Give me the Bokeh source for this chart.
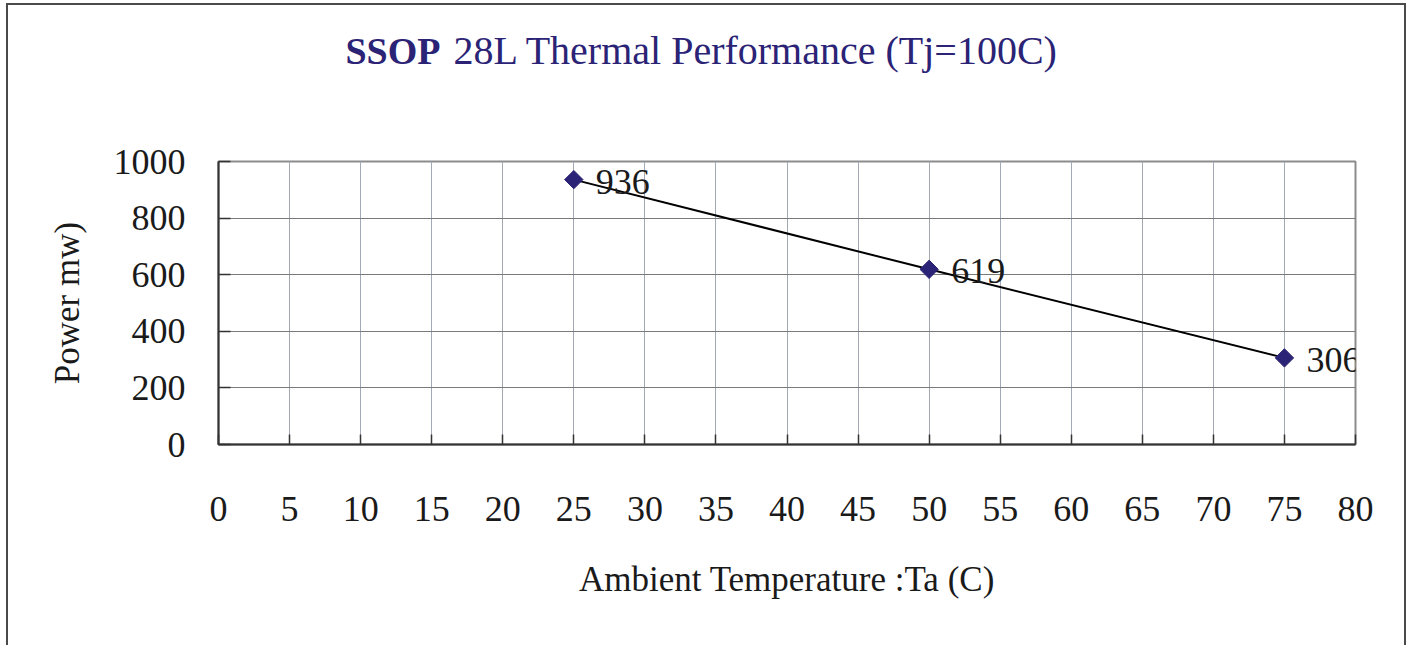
from bokeh.plotting import figure
from bokeh.models import LabelSet, ColumnDataSource, FixedTicker, Range1d
from bokeh.layouts import column
from bokeh.core.properties import value
from bokeh.embed import file_html
from bokeh.resources import INLINE
import math

# ---- data ----
ta = [25, 50, 75]
power = [936, 619, 306]
point_labels = ["936", "619", "306"]
x_ticks = list(range(0, 85, 5))
y_ticks = [0, 200, 400, 600, 800, 1000]
title_bold = "SSOP"
title_rest = "28L Thermal Performance (Tj=100C)"
x_label = "Ambient Temperature :Ta (C)"
y_label = "Power mw)"

FONT = "Liberation Serif"
NAVY = "#2B2375"
TXT = "#1a1a1a"
BORDER = "2px solid #4a4a4a"

xr = Range1d(0, 80)

# ---- title strip (SVG text, bold + normal parts) ----
tf = figure(width=1400, height=100, x_range=xr, y_range=(0, 100),
            output_backend="svg", toolbar_location=None,
            x_axis_type=None, y_axis_type=None,
            min_border_left=0, min_border_right=0, min_border_top=0, min_border_bottom=0,
            background_fill_color="white", border_fill_color="white",
            styles={"margin": "3px 0 0 6px", "border-left": BORDER,
                    "border-right": BORDER, "border-top": BORDER})
tf.title_location = None
tf.outline_line_color = None
tf.grid.visible = False
tf.text(x=[15.62], y=[55], text=[title_bold], text_font=value(FONT),
        text_font_size="38px", text_font_style="bold", text_color=NAVY,
        text_align="right", text_baseline="alphabetic")
tf.text(x=[16.53], y=[55], text=[title_rest], text_font=value(FONT),
        text_font_size="40px", text_font_style="normal", text_color=NAVY,
        text_align="left", text_baseline="alphabetic")

# ---- main chart ----
src = ColumnDataSource(dict(x=ta, y=power, lab=point_labels))

p = figure(width=1400, height=542, x_range=xr, y_range=(0, 1000),
           output_backend="svg", toolbar_location=None,
           min_border_left=210, min_border_right=53,
           min_border_top=58, min_border_bottom=201,
           background_fill_color="white", border_fill_color="white",
           styles={"margin": "0 0 0 6px", "border-left": BORDER,
                   "border-right": BORDER})

p.outline_line_color = "#8c8c8c"
p.outline_line_width = 2

p.xgrid.ticker = FixedTicker(ticks=x_ticks)
p.ygrid.ticker = FixedTicker(ticks=y_ticks)
p.xgrid.grid_line_color = "#a2a8b4"
p.xgrid.grid_line_width = 1
p.ygrid.grid_line_color = "#7a7a7a"
p.ygrid.grid_line_width = 1

for ax in (p.xaxis[0], p.yaxis[0]):
    ax.axis_line_color = "#333333"
    ax.axis_line_width = 2
    ax.major_tick_line_color = "#333333"
    ax.major_tick_line_width = 1.5
    ax.major_tick_out = 0
    ax.minor_tick_line_color = None
    ax.major_label_text_font = FONT
    ax.major_label_text_font_size = "36px"
    ax.major_label_text_color = TXT
    ax.axis_label_text_font = FONT
    ax.axis_label_text_font_size = "35px"
    ax.axis_label_text_font_style = "normal"
    ax.axis_label_text_color = TXT

p.xaxis[0].ticker = FixedTicker(ticks=x_ticks)
p.xaxis[0].major_tick_in = 10
p.xaxis[0].major_label_standoff = 52
p.xaxis[0].axis_label = x_label
p.xaxis[0].axis_label_standoff = 36

p.yaxis[0].ticker = FixedTicker(ticks=y_ticks)
p.yaxis[0].major_tick_in = 12
p.yaxis[0].major_label_standoff = 33
p.yaxis[0].axis_label = y_label
p.yaxis[0].axis_label_standoff = 24

p.line(ta, power, line_color="black", line_width=2)
p.scatter(ta, power, marker="square", angle=math.pi / 4, size=13,
          fill_color=NAVY, line_color=NAVY)

labels = LabelSet(x="x", y="y", text="lab", source=src, x_offset=22, y_offset=-2,
                  text_font=FONT, text_font_size="36px", text_color=TXT,
                  text_baseline="middle", text_align="left")
p.add_layout(labels)

layout = column(tf, p, spacing=0)
open("out.html", "w").write(file_html(layout, INLINE))
